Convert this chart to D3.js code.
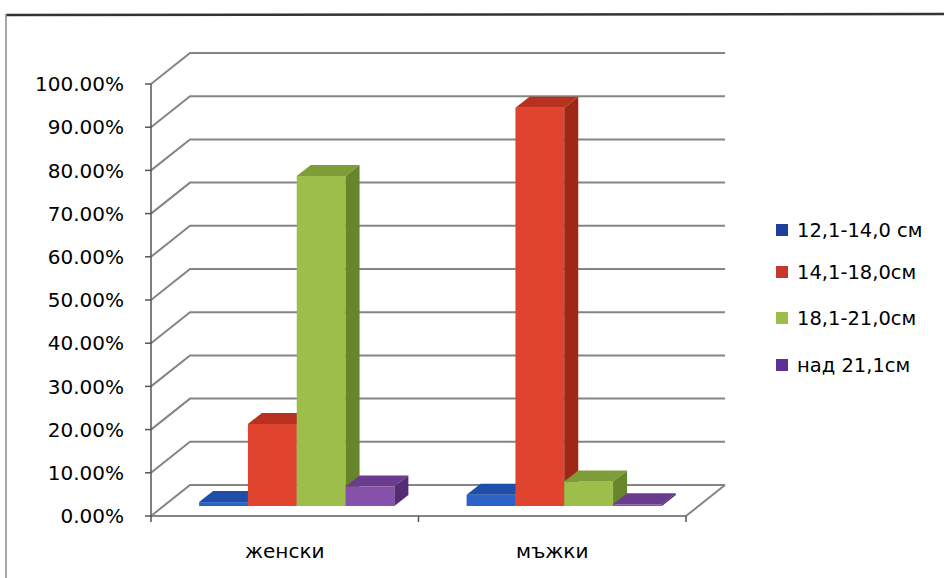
<!DOCTYPE html>
<html>
<head>
<meta charset="utf-8">
<script src="https://cdn.jsdelivr.net/npm/d3@7"></script>
<style>
  body { margin: 0; background: #fff; }
  text { font-family: "DejaVu Sans", "Noto Sans", sans-serif; fill: #000; }
</style>
</head>
<body>
<svg id="chart" width="944" height="578"></svg>
<script>
// data
const categories = ["женски", "мъжки"];
const seriesNames = ["12,1-14,0 см", "14,1-18,0см", "18,1-21,0см", "над 21,1см"];
const zhenski = [0.009, 0.19, 0.764, 0.045];
const mazhki = [0.026, 0.922, 0.057, 0.004];
const yTicks = [0, 0.1, 0.2, 0.3, 0.4, 0.5, 0.6, 0.7, 0.8, 0.9, 1.0];

// colours: front, top, side
const palette = [
  { front: "#2b63c6", top: "#1f4ea8", side: "#1a3e88", key: "#1e3d9e" },
  { front: "#e0442e", top: "#b7311f", side: "#9f2716", key: "#c8382a" },
  { front: "#9dbe4b", top: "#7e9d38", side: "#67862c", key: "#9cbd4c" },
  { front: "#8651aa", top: "#6b3b8e", side: "#542b74", key: "#5c3394" }
];

const values = [zhenski, mazhki];

const svg = d3.select("#chart");

// frame
svg.append("line").attr("x1", 6).attr("y1", 15).attr("x2", 944).attr("y2", 14)
  .attr("stroke", "#333").attr("stroke-width", 2.5);
svg.append("line").attr("x1", 6).attr("y1", 14).attr("x2", 6).attr("y2", 578)
  .attr("stroke", "#888").attr("stroke-width", 1.5);

// geometry of the 3d box
const x0 = 151, x1 = 686;
const wall = { dx: 39, dy: -31 };   // full depth of the floor
const barShift = { dx: 12, dy: -10 }; // front of bars
const barDepth = { dx: 14, dy: -11 };

const y = d3.scaleLinear().domain([0, 1]).range([516, 84]);
const xCat = d3.scaleBand().domain(categories).range([x0, x1]).paddingInner(0.27).paddingOuter(0.135);
const xSer = d3.scaleBand().domain(seriesNames).range([0, xCat.bandwidth()]);

const grid = svg.append("g").attr("fill", "none").attr("stroke", "#858585").attr("stroke-width", 2);

// side wall lines and back wall gridlines
yTicks.forEach(t => {
  const yy = y(t);
  grid.append("path")
    .attr("d", `M${x0},${yy} L${x0 + wall.dx},${yy + wall.dy} L${x1 + wall.dx},${yy + wall.dy}`);
});

// floor
grid.append("path")
  .attr("d", `M${x0},${y(0)} L${x1},${y(0)} L${x1 + wall.dx},${y(0) + wall.dy}`);

// value axis
const axisG = svg.append("g").attr("stroke", "#555").attr("stroke-width", 1.5);
axisG.append("line").attr("x1", x0).attr("x2", x0).attr("y1", y(1)).attr("y2", y(0));
yTicks.forEach(t => {
  axisG.append("line").attr("x1", x0 - 6).attr("x2", x0).attr("y1", y(t)).attr("y2", y(t));
});
// category ticks
[x0, x0 + (x1 - x0) / 2, x1].forEach(xx => {
  axisG.append("line").attr("x1", xx).attr("x2", xx).attr("y1", y(0)).attr("y2", y(0) + 6);
});

svg.append("g").selectAll("text").data(yTicks).join("text")
  .attr("x", 124).attr("y", d => y(d))
  .attr("dy", "0.36em")
  .attr("text-anchor", "end")
  .attr("font-size", 20)
  .text(d => (d * 100).toFixed(2) + "%");

// bars
const bars = svg.append("g");
categories.forEach((c, ci) => {
  seriesNames.forEach((s, si) => {
    const v = values[ci][si];
    const col = palette[si];
    const bx = xCat(c) + xSer(s) + barShift.dx;
    const bw = xSer.bandwidth();
    const base = y(0) + barShift.dy;
    const top = y(v) + barShift.dy;
    const g = bars.append("g");
    g.append("rect").attr("x", bx).attr("y", top).attr("width", bw).attr("height", base - top)
      .attr("fill", col.front);
    g.append("path")
      .attr("d", `M${bx},${top} L${bx + barDepth.dx},${top + barDepth.dy} L${bx + bw + barDepth.dx},${top + barDepth.dy} L${bx + bw},${top} Z`)
      .attr("fill", col.top);
    g.append("path")
      .attr("d", `M${bx + bw},${top} L${bx + bw + barDepth.dx},${top + barDepth.dy} L${bx + bw + barDepth.dx},${base + barDepth.dy} L${bx + bw},${base} Z`)
      .attr("fill", col.side);
  });
});

// category labels
svg.append("g").selectAll("text").data(categories).join("text")
  .attr("x", d => xCat(d) + xCat.bandwidth() / 2)
  .attr("y", 558)
  .attr("text-anchor", "middle")
  .attr("font-size", 20)
  .text(d => d);

// legend
const legendY = [230, 272, 318, 365];
const legend = svg.append("g");
seriesNames.forEach((s, i) => {
  legend.append("rect").attr("x", 776).attr("y", legendY[i] - 6).attr("width", 12).attr("height", 12)
    .attr("fill", palette[i].key);
  legend.append("text").attr("x", 797).attr("y", legendY[i]).attr("dy", "0.36em")
    .attr("font-size", 19.5).text(s);
});
</script>
</body>
</html>
